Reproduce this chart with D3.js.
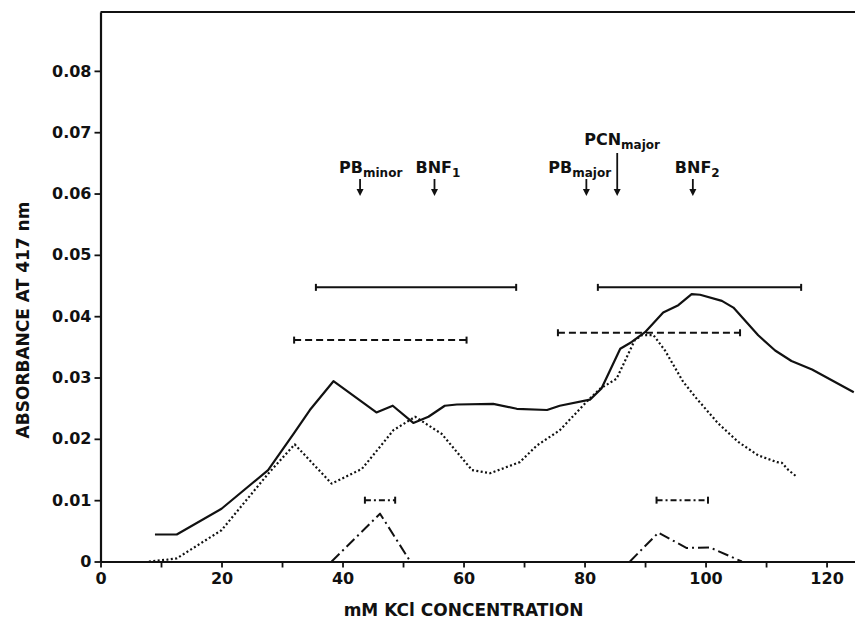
<!DOCTYPE html>
<html>
<head>
<meta charset="utf-8">
<script src="https://cdnjs.cloudflare.com/ajax/libs/d3/7.8.5/d3.min.js"></script>
<style>
  html, body { margin: 0; padding: 0; background: #fff; }
  svg { display: block; }
  .tick text, .lbl { font-family: "DejaVu Sans", sans-serif; font-weight: bold; fill: #111; }
</style>
</head>
<body>
<div id="chart"></div>
<script>
'use strict';

// ---- Data ------------------------------------------------------------------
// each point is [mM KCl, absorbance at 417 nm]
var solidCurve = [
  [9.0, 0.0044], [12.6, 0.0044], [20.0, 0.0086], [27.7, 0.0149], [31.9, 0.0208],
  [34.6, 0.0247], [38.5, 0.0294], [45.6, 0.0243], [48.3, 0.0254], [51.7, 0.0226],
  [54.2, 0.0236], [56.9, 0.0254], [58.9, 0.0256], [64.9, 0.0257], [68.8, 0.0249],
  [73.8, 0.0247], [75.9, 0.0254], [80.9, 0.0264], [82.8, 0.0282], [85.9, 0.0347],
  [87.8, 0.0358], [90.0, 0.0374], [93.0, 0.0406], [95.5, 0.0418], [97.7, 0.0436],
  [99.1, 0.0435], [102.7, 0.0425], [104.6, 0.0414], [108.7, 0.0369], [111.5, 0.0344],
  [114.2, 0.0327], [117.6, 0.0313], [124.5, 0.0276]
];

var dottedCurve = [
  [8.0, 0.0], [11.0, 0.0003], [12.6, 0.0005], [20.0, 0.0051], [27.7, 0.0143],
  [32.1, 0.0191], [38.2, 0.0127], [43.2, 0.0151], [46.2, 0.0187], [48.4, 0.0214],
  [52.0, 0.0236], [56.4, 0.0208], [61.4, 0.0149], [64.4, 0.0144], [69.3, 0.0162],
  [72.1, 0.0189], [75.9, 0.0214], [80.6, 0.0263], [82.6, 0.0282], [85.3, 0.0298],
  [88.3, 0.0361], [89.5, 0.0369], [91.4, 0.0369], [93.3, 0.0344], [96.3, 0.0293],
  [98.5, 0.0266], [102.1, 0.0225], [105.4, 0.0195], [108.7, 0.0173], [111.8, 0.0162],
  [112.6, 0.0161], [113.7, 0.0149], [115.1, 0.0138]
];

var dashDotPeak1 = [[38.2, 0], [46.2, 0.0078], [51.2, 0]];
var dashDotPeak2 = [[87.5, 0], [92.2, 0.0047], [96.9, 0.0022], [100.7, 0.0023], [106.0, 0]];

// horizontal range bars: [from, to, level]
var solidRanges   = [[35.6, 68.7, 0.0447], [82.2, 115.8, 0.0447]];
var dashedRanges  = [[32.0, 60.5, 0.0361], [75.6, 105.7, 0.0373]];
var dashDotRanges = [[43.7, 48.7, 0.0100], [91.9, 100.4, 0.0100]];

// arrows: [label, subscript, mM KCl]
var markers = [
  ['PB', 'minor', 42.9],
  ['BNF', '1', 55.2],
  ['PB', 'major', 80.3],
  ['PCN', 'major', 85.4],
  ['BNF', '2', 97.9]
];

var xTicks = [0, 10, 20, 30, 40, 50, 60, 70, 80, 90, 100, 110, 120];
var yTicks = [0, 0.01, 0.02, 0.03, 0.04, 0.05, 0.06, 0.07, 0.08];

// ---- Layout ------------------------------------------------------------------
var W = 855, H = 623;
var INK = '#111';

var x = d3.scaleLinear().domain([0, 124.7]).range([100.5, 855]);
var y = d3.scaleLinear().domain([0, 0.0896]).range([561.5, 12]);

// label placement next to each arrow (px), arrow tops (px)
var markerLayout = [
  { dx: -21, base: 173, top: 179 },
  { dx: -19, base: 173, top: 179 },
  { dx: -38, base: 173, top: 179 },
  { dx: -33, base: 145, top: 153 },
  { dx: -18, base: 173, top: 179 }
];
var ARROW_TIP = 196;

var svg = d3.select('#chart').append('svg')
  .attr('width', W)
  .attr('height', H);

// ---- Axes --------------------------------------------------------------------
var xAxis = d3.axisBottom(x)
  .tickValues(xTicks)
  .tickSize(6)
  .tickSizeOuter(0)
  .tickPadding(5)
  .tickFormat(function(d) { return d % 20 === 0 ? d : ''; });

var yAxis = d3.axisLeft(y)
  .tickValues(yTicks)
  .tickSize(6)
  .tickSizeOuter(0)
  .tickPadding(3)
  .tickFormat(function(d) { return d === 0 ? '0' : d3.format('.2f')(d); });

var gx = svg.append('g')
  .attr('transform', 'translate(0,' + y(0) + ')')
  .call(xAxis);
var gy = svg.append('g')
  .attr('transform', 'translate(' + x(0) + ',0)')
  .call(yAxis);

[gx, gy].forEach(function(g) {
  g.select('.domain').attr('stroke', INK).attr('stroke-width', 2.2);
  g.selectAll('.tick line').attr('stroke', INK).attr('stroke-width', 1.8);
  g.selectAll('.tick text').attr('font-size', 16).attr('fill', INK);
});

// top frame line
svg.append('line')
  .attr('x1', x(0)).attr('x2', W)
  .attr('y1', y.range()[1]).attr('y2', y.range()[1])
  .attr('stroke', INK).attr('stroke-width', 2.2);

svg.append('text')
  .attr('class', 'lbl')
  .attr('x', x(60)).attr('y', 616)
  .attr('text-anchor', 'middle')
  .attr('font-size', 17)
  .text('mM KCl CONCENTRATION');

svg.append('text')
  .attr('class', 'lbl')
  .attr('transform', 'translate(29,320) rotate(-90)')
  .attr('text-anchor', 'middle')
  .attr('font-size', 17)
  .text('ABSORBANCE AT 417 nm');

// ---- Curves --------------------------------------------------------------------
var line = d3.line()
  .x(function(d) { return x(d[0]); })
  .y(function(d) { return y(d[1]); });

function drawCurve(pts, dash, width) {
  svg.append('path')
    .datum(pts)
    .attr('d', line)
    .attr('fill', 'none')
    .attr('stroke', INK)
    .attr('stroke-width', width)
    .attr('stroke-linejoin', 'round')
    .attr('stroke-dasharray', dash);
}

drawCurve(dottedCurve, '2,2.4', 2.2);
drawCurve(solidCurve, null, 2.2);
drawCurve(dashDotPeak1, '11,4,2,4', 2);
drawCurve(dashDotPeak2, '11,4,2,4', 2);

// ---- Range bars ----------------------------------------------------------------
function drawRanges(ranges, dash) {
  var g = svg.append('g');
  ranges.forEach(function(r) {
    g.append('line')
      .attr('x1', x(r[0])).attr('x2', x(r[1]))
      .attr('y1', y(r[2])).attr('y2', y(r[2]))
      .attr('stroke', INK).attr('stroke-width', 2)
      .attr('stroke-dasharray', dash);
    [r[0], r[1]].forEach(function(v) {
      g.append('line')
        .attr('x1', x(v)).attr('x2', x(v))
        .attr('y1', y(r[2]) - 3.5).attr('y2', y(r[2]) + 3.5)
        .attr('stroke', INK).attr('stroke-width', 2);
    });
  });
}

drawRanges(solidRanges, null);
drawRanges(dashedRanges, '7,4');
drawRanges(dashDotRanges, '6,3,2,3');

// ---- Arrows + labels -----------------------------------------------------------
markers.forEach(function(m, i) {
  var lay = markerLayout[i];
  var ax = x(m[2]);
  svg.append('line')
    .attr('x1', ax).attr('x2', ax)
    .attr('y1', lay.top).attr('y2', ARROW_TIP - 5)
    .attr('stroke', INK).attr('stroke-width', 1.8);
  svg.append('path')
    .attr('d', 'M' + (ax - 3.5) + ',' + (ARROW_TIP - 7) + 'L' + (ax + 3.5) + ',' + (ARROW_TIP - 7) + 'L' + ax + ',' + ARROW_TIP + 'Z')
    .attr('fill', INK);

  var t = svg.append('text')
    .attr('class', 'lbl')
    .attr('x', ax + lay.dx).attr('y', lay.base)
    .attr('font-size', 16);
  t.append('tspan').text(m[0]);
  t.append('tspan')
    .attr('dy', 4)
    .attr('font-size', 12)
    .text(m[1]);
});
</script>
</body>
</html>
